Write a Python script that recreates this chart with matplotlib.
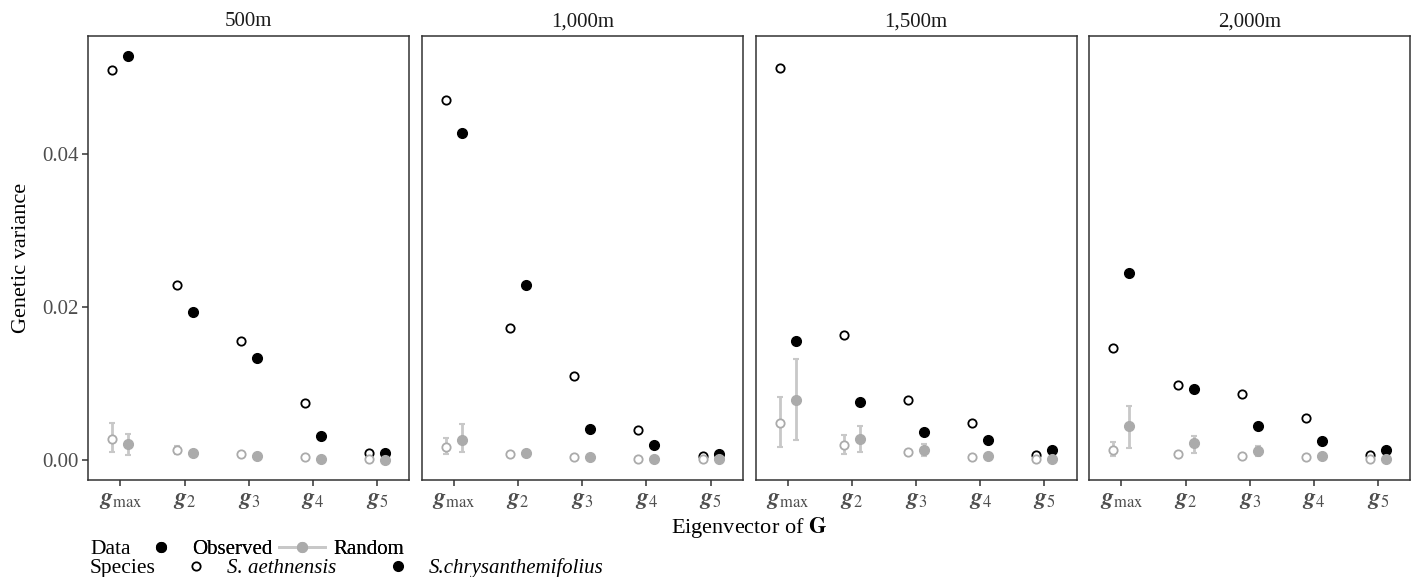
import numpy as np
import matplotlib
matplotlib.use('Agg')
import matplotlib.pyplot as plt
from matplotlib.lines import Line2D

plt.rcParams['font.family'] = ['Liberation Serif', 'DejaVu Serif']
plt.rcParams['mathtext.fontset'] = 'stix'

# data
distances = ['500m', '1,000m', '1,500m', '2,000m']
vectors = ['max', '2', '3', '4', '5']

obs_aeth = [
    [0.0510, 0.0229, 0.0156, 0.0074, 0.00096],
    [0.0471, 0.0172, 0.0110, 0.0039, 0.00057],
    [0.0513, 0.0163, 0.0079, 0.0049, 0.00065],
    [0.0147, 0.0098, 0.0086, 0.0055, 0.0007],
]
obs_chrys = [
    [0.0528, 0.0193, 0.0134, 0.0032, 0.00087],
    [0.0428, 0.0229, 0.0040, 0.0019, 0.0008],
    [0.0156, 0.0076, 0.0036, 0.0026, 0.0013],
    [0.0245, 0.0093, 0.0044, 0.0025, 0.0013],
]
rand_aeth = [
    [0.00275, 0.0013, 0.00074, 0.00035, 0.00013],
    [0.00166, 0.0008, 0.00044, 0.0002, 0.0001],
    [0.0048, 0.0019, 0.0010, 0.00044, 0.00017],
    [0.0013, 0.00074, 0.0005, 0.00035, 0.00017],
]
rand_aeth_lo = [
    [0.0010, 0.0008, 0.0006, 0.0003, 0.0001],
    [0.00074, 0.0006, 0.0003, 0.00015, 0.00008],
    [0.00166, 0.0008, 0.0007, 0.0003, 0.0001],
    [0.0005, 0.0005, 0.0004, 0.0003, 0.0001],
]
rand_aeth_hi = [
    [0.0049, 0.0018, 0.0009, 0.0004, 0.00015],
    [0.0029, 0.0010, 0.0006, 0.00025, 0.00012],
    [0.0082, 0.0033, 0.0013, 0.0006, 0.00025],
    [0.0023, 0.0010, 0.0006, 0.0004, 0.00025],
]
rand_chrys = [
    [0.0021, 0.00087, 0.0005, 0.0001, 0.00003],
    [0.0026, 0.0009, 0.0004, 0.0002, 0.0001],
    [0.0078, 0.0027, 0.0013, 0.0005, 0.0002],
    [0.0044, 0.0022, 0.0012, 0.0005, 0.0002],
]
rand_chrys_lo = [
    [0.00065, 0.0006, 0.0004, 0.00005, 0.0],
    [0.00105, 0.0006, 0.0003, 0.00015, 0.00008],
    [0.0026, 0.00105, 0.0005, 0.0003, 0.0001],
    [0.0016, 0.00096, 0.0005, 0.0003, 0.0001],
]
rand_chrys_hi = [
    [0.0034, 0.0011, 0.0006, 0.00015, 0.00006],
    [0.0047, 0.0012, 0.0005, 0.00025, 0.00012],
    [0.0132, 0.0045, 0.0021, 0.0007, 0.0003],
    [0.0070, 0.0032, 0.0018, 0.0007, 0.0003],
]

frame_col = '#333333'
tick_col = '#4D4D4D'
rand_col = '#ABABAB'
err_col = '#C8C8C8'

fig = plt.figure(figsize=(14.18, 5.77), dpi=100)
W, H = 1418, 577
lefts = [88.3, 421.7, 755.5, 1089.3]
pw = 321
top, bottom = 36, 480

x = np.arange(1, 6)
dx = 0.125
for i, d in enumerate(distances):
    ax = fig.add_axes([lefts[i] / W, 1 - bottom / H, pw / W, (bottom - top) / H])
    # observed
    ax.plot(x - dx, obs_aeth[i], 'o', ms=6, mfc='white', mec='black', mew=1.3, zorder=3)
    ax.plot(x + dx, obs_chrys[i], 'o', ms=7, mfc='black', mec='black', zorder=3)
    # random with intervals
    ra = np.array(rand_aeth[i])
    rc = np.array(rand_chrys[i])
    ax.errorbar(x - dx, ra, yerr=[ra - np.array(rand_aeth_lo[i]), np.array(rand_aeth_hi[i]) - ra],
                fmt='none', ecolor=err_col, elinewidth=2, capsize=2.5, capthick=1.5, zorder=4)
    ax.errorbar(x + dx, rc, yerr=[rc - np.array(rand_chrys_lo[i]), np.array(rand_chrys_hi[i]) - rc],
                fmt='none', ecolor=err_col, elinewidth=2, capsize=2.5, capthick=1.5, zorder=4)
    ax.plot(x - dx, ra, 'o', ms=6, mfc='white', mec=rand_col, mew=1.3, zorder=5)
    ax.plot(x + dx, rc, 'o', ms=7, mfc=rand_col, mec=rand_col, zorder=5)

    ax.set_xlim(0.5, 5.5)
    ax.set_ylim(-0.00261, 0.05542)
    ax.set_xticks(x)
    ax.set_xticklabels([r'$\mathbfit{g}_{\mathrm{%s}}$' % v for v in vectors],
                       fontsize=17, color=tick_col)
    for s in ax.spines.values():
        s.set_color(frame_col)
        s.set_linewidth(1.1)
    ax.tick_params(axis='x', direction='out', length=4, width=1.1, color=frame_col, pad=3)
    if i == 0:
        ax.set_yticks([0.0, 0.02, 0.04])
        ax.set_yticklabels(['0.00', '0.02', '0.04'], fontsize=15, color=tick_col)
        ax.tick_params(axis='y', direction='out', length=4, width=1.1, color=frame_col, pad=3)
        ax.set_ylabel('Genetic variance', fontsize=16, labelpad=8)
    else:
        ax.set_yticks([])
    ax.set_title(d, fontsize=15, pad=7, color='#1A1A1A')

fig.text(749 / W, 1 - 528 / H, r'Eigenvector of $\mathbf{G}$', fontsize=16,
         ha='center', va='center')

# legends at the bottom
fig.text(90 / W, 1 - 549 / H, 'Data', fontsize=15.5, ha='left', va='center')
data_handles = [
    Line2D([], [], ls='none', marker='o', ms=7, mfc='black', mec='black'),
    Line2D([], [], color=err_col, lw=2, marker='o', ms=7, mfc=rand_col, mec=rand_col),
]
leg1 = fig.legend(data_handles, ['Observed', 'Random'], loc='center left',
                  bbox_to_anchor=(138 / W, 1 - 549 / H), ncol=2, frameon=False,
                  fontsize=15, handlelength=2.2, handletextpad=0.4, columnspacing=0.3,
                  borderpad=0, borderaxespad=0)

fig.text(90 / W, 1 - 568 / H, 'Species', fontsize=15.5, ha='left', va='center')
sp_handles = [
    Line2D([], [], ls='none', marker='o', ms=6, mfc='white', mec='black', mew=1.3),
    Line2D([], [], ls='none', marker='o', ms=7, mfc='black', mec='black'),
]
leg2 = fig.legend(sp_handles, ['S. aethnensis', 'S.chrysanthemifolius'], loc='center left',
                  bbox_to_anchor=(173 / W, 1 - 568 / H), ncol=2, frameon=False,
                  handlelength=2.2, handletextpad=0.4, columnspacing=1.85,
                  borderpad=0, borderaxespad=0, prop={'style': 'italic', 'size': 15})
fig.add_artist(leg1)

fig.savefig('out.png', dpi=100)
